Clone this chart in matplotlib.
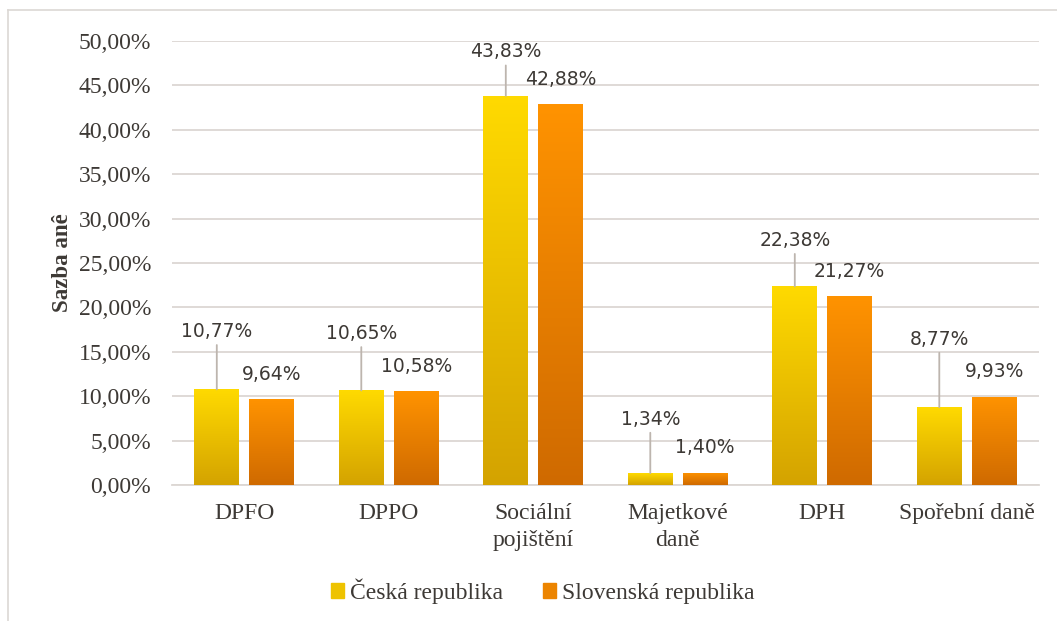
import numpy as np
import matplotlib
matplotlib.use("Agg")
import matplotlib.pyplot as plt
from matplotlib.colors import LinearSegmentedColormap
from matplotlib.patches import Rectangle
from matplotlib.lines import Line2D

categories = ["DPFO", "DPPO", "Sociální\npojištění", "Majetkové\ndaně", "DPH", "Spořební daně"]
cz_values = [10.77, 10.65, 43.83, 1.34, 22.38, 8.77]
sk_values = [9.64, 10.58, 42.88, 1.40, 21.27, 9.93]
series_names = ["Česká republika", "Slovenská republika"]
y_ticks = [0, 5, 10, 15, 20, 25, 30, 35, 40, 45, 50]

# label offsets above the Czech bars (pixels), Excel placed them by hand
cz_label_offsets = [58, 57, 44, 54, 46, 68]

text_col = "#3d3935"
grid_col = "#dcd7d3"
serif = "Liberation Serif"

cz_cmap = LinearSegmentedColormap.from_list("cz", ["#d4a300", "#ffda00"])
sk_cmap = LinearSegmentedColormap.from_list("sk", ["#cf6a00", "#ff9300"])

fig = plt.figure(figsize=(10.57, 6.21), dpi=100)
ax = fig.add_axes([172 / 1057, (621 - 485) / 621, (1039 - 172) / 1057, (485 - 41) / 621])

x = np.arange(len(categories))
w = 0.311
off = 0.19

cz_bars = ax.bar(x - off, cz_values, w, color="#eec300", zorder=3)
sk_bars = ax.bar(x + off, sk_values, w, color="#ec8400", zorder=3)

grad = np.linspace(0, 1, 256).reshape(-1, 1)
for bars, cmap in [(cz_bars, cz_cmap), (sk_bars, sk_cmap)]:
    for b in bars:
        x0, h = b.get_x(), b.get_height()
        im = ax.imshow(grad, cmap=cmap, origin="lower", aspect="auto",
                       extent=(x0, x0 + b.get_width(), 0, h), zorder=4)
        im.set_clip_path(b)

ax.set_xlim(-0.5, len(categories) - 0.5)
ax.set_ylim(0, 50)

px_per_unit = (485 - 41) / 50.0
for i, v in enumerate(cz_values):
    ax.annotate(f"{v:.2f}%".replace(".", ","), xy=(x[i] - off, v),
                xytext=(x[i] - off, v + cz_label_offsets[i] / px_per_unit),
                ha="center", va="center", fontsize=13.5, color=text_col,
                family="DejaVu Sans", zorder=5,
                arrowprops=dict(arrowstyle="-", color="#bdb5ae", lw=1.3,
                                shrinkA=1, shrinkB=0))
for i, v in enumerate(sk_values):
    ax.text(x[i] + off, v + 25 / px_per_unit, f"{v:.2f}%".replace(".", ","),
            ha="center", va="center", fontsize=13.5, color=text_col,
            family="DejaVu Sans", zorder=5)

ax.set_yticks(y_ticks)
ax.set_yticklabels([f"{t:.2f}%".replace(".", ",") for t in y_ticks],
                   family=serif, fontsize=17, color=text_col)
ax.set_xticks(x)
ax.set_xticklabels(categories, family=serif, fontsize=17, color=text_col,
                   linespacing=1.35)
ax.tick_params(axis="both", length=0)
ax.tick_params(axis="y", pad=15)
ax.tick_params(axis="x", pad=13)
ax.grid(axis="y", color=grid_col, lw=1.3, zorder=0)
for s in ["left", "right", "top"]:
    ax.spines[s].set_visible(False)
ax.spines["bottom"].set_color(grid_col)
ax.spines["bottom"].set_linewidth(1.3)

ax.set_ylabel("Sazba anê", family=serif, fontsize=16.5, fontweight="bold", color=text_col)
ax.yaxis.set_label_coords((73 - 172) / 867, 0.5)

handles = [Rectangle((0, 0), 1, 1, color="#eec300"), Rectangle((0, 0), 1, 1, color="#ec8400")]
fig.legend(handles, series_names, loc="center", bbox_to_anchor=(543 / 1057, 1 - 591 / 621),
           ncol=2, frameon=False, prop={"family": serif, "size": 17},
           labelcolor=text_col, handlelength=0.55, handleheight=0.55,
           handletextpad=0.25, columnspacing=1.7)

# outer chart border (left and top only visible)
fig.add_artist(Line2D([8 / 1057, 8 / 1057], [0, 1 - 10 / 621], color="#dcd8d4", lw=1.2))
fig.add_artist(Line2D([8 / 1057, 1], [1 - 10 / 621, 1 - 10 / 621], color="#dcd8d4", lw=1.2))

fig.savefig("out.png", dpi=100)
